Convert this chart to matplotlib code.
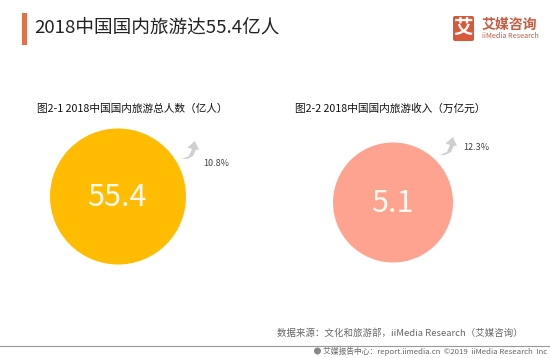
import matplotlib
matplotlib.use("Agg")
import matplotlib.pyplot as plt
from matplotlib.patches import Circle, Rectangle, FancyBboxPatch, PathPatch
from matplotlib.path import Path

plt.rcParams['font.family'] = ['Noto Sans CJK SC', 'DejaVu Sans']

# datos
titulo = "2018中国国内旅游达55.4亿人"
subtitulos = ["图2-1 2018中国国内旅游总人数（亿人）", "图2-2 2018中国国内旅游收入（万亿元）"]
valores = ["55.4", "5.1"]
crecimientos = ["10.8%", "12.3%"]
colores = ["#FFBC00", "#FFA391"]
fuente = "数据来源：文化和旅游部，iiMedia Research（艾媒咨询）"
pie = "艾媒报告中心：report.iimedia.cn  ©2019  iiMedia Research  Inc"

fig = plt.figure(figsize=(5.5, 3.58), dpi=100, facecolor="white")
ax = fig.add_axes([0, 0, 1, 1])
ax.set_xlim(0, 550)
ax.set_ylim(358, 0)
ax.axis("off")

# barra y titulo
ax.add_patch(Rectangle((22, 13), 5, 32, color="#E4704A", lw=0))
ax.text(34, 28, titulo, fontsize=13.4, color="#222222", va="center", ha="left")

# logo
ax.add_patch(FancyBboxPatch((453, 16), 21, 25, boxstyle="round,pad=0,rounding_size=2", color="#D9583A", lw=0))
ax.text(463.5, 28, "艾", fontsize=14, color="white", ha="center", va="center", weight="bold")
ax.text(482, 24.5, "艾媒咨询", fontsize=10, color="#C9593F", ha="left", va="center", weight="bold")
ax.text(482, 36.5, "iiMedia Research", fontsize=5.2, color="#C9593F", ha="left", va="center")

# subtitulos
xs_sub = [37, 295]
for x, s in zip(xs_sub, subtitulos):
    ax.text(x, 109, s, fontsize=7.7, color="#111111", ha="left", va="center", weight="medium")

# circulos
centros = [(118, 196.5), (393, 202.5)]
radios = [68, 60]
tamanos = [22, 22]
for (cx, cy), r, c, v, t in zip(centros, radios, colores, valores, tamanos):
    ax.add_patch(Circle((cx, cy), r, color=c, lw=0))
    ax.text(cx - 1, cy + 0.5, v, fontsize=t, color="#FFF8EE", ha="center", va="center", weight="light")

# flechas
def flecha(dx, dy):
    pts = [(182, 159), (189, 156), (192, 149), (187.5, 147.5), (195, 141), (199, 150),
           (196, 149.5), (193, 156), (187, 159), (182, 159)]
    pts = [(a + dx, b + dy) for a, b in pts]
    codes = [Path.MOVETO] + [Path.LINETO] * (len(pts) - 2) + [Path.CLOSEPOLY]
    ax.add_patch(PathPatch(Path(pts, codes), color="#CFCFCF", lw=0))

flecha(0, 0)
flecha(258, -4)
ax.text(203, 163, crecimientos[0], fontsize=6.5, color="#444444", ha="left", va="center")
ax.text(463, 147.5, crecimientos[1], fontsize=6.5, color="#444444", ha="left", va="center")

# fuente y pie
ax.text(277, 333, fuente, fontsize=6.8, color="#666666", ha="left", va="center")
ax.plot([0, 550], [345.5, 345.5], color="#999999", lw=0.8)
ax.add_patch(Circle((317.5, 351), 3.5, color="#888888", lw=0))
ax.text(323, 351, pie, fontsize=5.6, color="#666666", ha="left", va="center")

fig.savefig("out.png", dpi=100)
